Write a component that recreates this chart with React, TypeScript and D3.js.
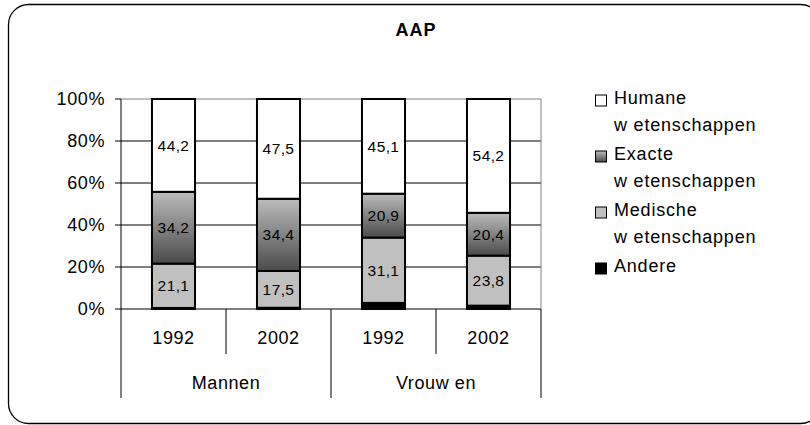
// @ts-nocheck
import React from "react";
import * as d3 from "d3";

const years = ["1992", "2002", "1992", "2002"];
const groups = ["Mannen", "Vrouw en"];
const seriesNames = ["Andere", "Medische", "Exacte", "Humane"];
const andere = [0.5, 0.6, 2.9, 1.6];
const medische = [21.1, 17.5, 31.1, 23.8];
const exacte = [34.2, 34.4, 20.9, 20.4];
const humane = [44.2, 47.5, 45.1, 54.2];
const yTicks = [0, 20, 40, 60, 80, 100];
const legendLines = [
  ["Humane", "w etenschappen"],
  ["Exacte", "w etenschappen"],
  ["Medische", "w etenschappen"],
  ["Andere"],
];

const FONT = "'Liberation Sans', Arial, sans-serif";

const App = () => {
  const svgRef = React.useRef(null);
  const width = 810;
  const height = 425;
  const margin = { left: 121, right: 269, top: 99, bottom: 116 };

  React.useEffect(() => {
    const left = margin.left;
    const right = width - margin.right;
    const top = margin.top;
    const bottom = height - margin.bottom;

    const rows = years.map((y, i) => ({
      key: i,
      Andere: andere[i],
      Medische: medische[i],
      Exacte: exacte[i],
      Humane: humane[i],
    }));
    const stacked = d3.stack().keys(seriesNames)(rows);

    const xScale = d3.scaleBand()
      .domain(rows.map((d) => d.key))
      .range([left, right])
      .paddingInner(0.59)
      .paddingOuter(0.295);
    const step = xScale.step();
    const yScale = d3.scaleLinear().domain([0, 100]).range([bottom, top]);

    const fill = {
      Andere: "#000000",
      Medische: "#c0c0c0",
      Exacte: "url(#exacteGrad)",
      Humane: "#ffffff",
    };

    const svgEl = d3.select(svgRef.current);
    svgEl.selectAll("*").remove();

    const defs = svgEl.append("defs");
    const grad = defs.append("linearGradient")
      .attr("id", "exacteGrad")
      .attr("x1", 0).attr("y1", 0).attr("x2", 0).attr("y2", 1);
    grad.append("stop").attr("offset", "0%").attr("stop-color", "#bcbcbc");
    grad.append("stop").attr("offset", "100%").attr("stop-color", "#4a4a4a");

    // outer frame
    svgEl.append("rect")
      .attr("x", 8.5).attr("y", 4.5)
      .attr("width", 812).attr("height", 419)
      .attr("rx", 20).attr("ry", 20)
      .attr("fill", "#fff")
      .attr("stroke", "#000")
      .attr("stroke-width", 1.3);

    // title
    svgEl.append("text")
      .attr("x", 416).attr("y", 36)
      .attr("text-anchor", "middle")
      .attr("font-family", FONT)
      .attr("font-weight", "bold")
      .attr("font-size", 18)
      .attr("letter-spacing", 1)
      .text("AAP");

    // grid lines
    yTicks.forEach((t) => {
      svgEl.append("line")
        .attr("x1", t === 100 ? left : left - 6)
        .attr("x2", right)
        .attr("y1", yScale(t)).attr("y2", yScale(t))
        .attr("stroke", t === 100 ? "#808080" : "#000")
        .attr("stroke-width", 1);
      if (t === 100) {
        svgEl.append("line")
          .attr("x1", left - 6).attr("x2", left)
          .attr("y1", yScale(t)).attr("y2", yScale(t))
          .attr("stroke", "#000");
      }
      svgEl.append("text")
        .attr("x", 105).attr("y", yScale(t))
        .attr("dy", "0.35em")
        .attr("text-anchor", "end")
        .attr("font-family", FONT)
        .attr("font-size", 18)
        .attr("letter-spacing", 0.6)
        .text(`${t}%`);
    });
    // right border of plot area
    svgEl.append("line")
      .attr("x1", right).attr("x2", right)
      .attr("y1", top).attr("y2", bottom)
      .attr("stroke", "#808080");

    // bars
    stacked.forEach((s) => {
      svgEl.append("g")
        .selectAll("rect")
        .data(s)
        .enter()
        .append("rect")
        .attr("x", (d, i) => xScale(i))
        .attr("y", (d) => yScale(d[1]))
        .attr("width", xScale.bandwidth())
        .attr("height", (d) => yScale(d[0]) - yScale(d[1]))
        .attr("fill", fill[s.key])
        .attr("stroke", "#000")
        .attr("stroke-width", 2);
    });

    // value labels
    stacked.filter((s) => s.key !== "Andere").forEach((s) => {
      svgEl.append("g")
        .selectAll("text")
        .data(s)
        .enter()
        .append("text")
        .attr("x", (d, i) => xScale(i) + xScale.bandwidth() / 2)
        .attr("y", (d) => yScale((d[0] + d[1]) / 2))
        .attr("dy", "0.35em")
        .attr("text-anchor", "middle")
        .attr("font-family", FONT)
        .attr("font-size", 15.5)
        .attr("letter-spacing", 0.4)
        .attr("fill", "#000")
        .text((d) => d3.format(".1f")(d[1] - d[0]).replace(".", ","));
    });

    // left axis line
    svgEl.append("line")
      .attr("x1", left).attr("x2", left)
      .attr("y1", top).attr("y2", 398)
      .attr("stroke", "#000");

    // category axis separators and labels
    d3.range(1, years.length + 1).forEach((i) => {
      const x = left + step * i;
      svgEl.append("line")
        .attr("x1", x).attr("x2", x)
        .attr("y1", bottom).attr("y2", i % 2 === 0 ? 398 : 354)
        .attr("stroke", "#000");
    });
    years.forEach((y, i) => {
      svgEl.append("text")
        .attr("x", xScale(i) + xScale.bandwidth() / 2)
        .attr("y", 338)
        .attr("dy", "0.35em")
        .attr("text-anchor", "middle")
        .attr("font-family", FONT)
        .attr("font-size", 18)
        .attr("letter-spacing", 0.6)
        .text(y);
    });
    groups.forEach((g, i) => {
      svgEl.append("text")
        .attr("x", left + step * (2 * i + 1))
        .attr("y", 383)
        .attr("dy", "0.35em")
        .attr("text-anchor", "middle")
        .attr("font-family", FONT)
        .attr("font-size", 18)
        .attr("letter-spacing", 0.6)
        .text(g);
    });

    // legend
    const legendKeys = ["Humane", "Exacte", "Medische", "Andere"];
    legendKeys.forEach((k, i) => {
      const cy = 100.5 + i * 56;
      svgEl.append("rect")
        .attr("x", 595.5).attr("y", cy - 5.5)
        .attr("width", 11).attr("height", 11)
        .attr("fill", k === "Exacte" ? "url(#exacteGrad)" : fill[k])
        .attr("stroke", "#000");
      legendLines[i].forEach((line, j) => {
        svgEl.append("text")
          .attr("x", 614)
          .attr("y", cy - 3 + j * 27.5)
          .attr("dy", "0.35em")
          .attr("font-family", FONT)
          .attr("font-size", 18)
          .attr("letter-spacing", 0.8)
          .text(line);
      });
    });
  }, []);

  return (
    <svg
      ref={svgRef}
      width={width}
      height={height}
      style={{ position: "absolute", left: 0, top: 0 }}
    />
  );
};

export default App;
